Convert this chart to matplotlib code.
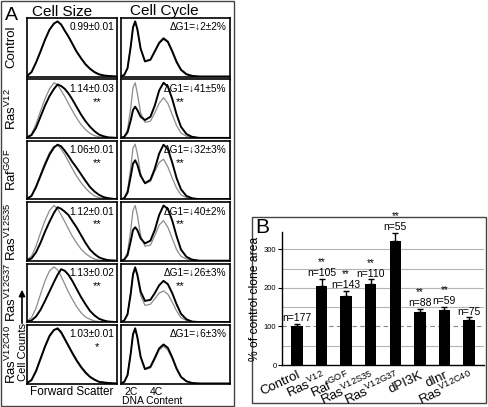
import matplotlib
matplotlib.use('Agg')
import matplotlib.pyplot as plt
from matplotlib.patches import Rectangle
import numpy as np

plt.rcParams['font.family'] = ['Liberation Sans', 'DejaVu Sans']
plt.rcParams['mathtext.fontset'] = 'custom'
plt.rcParams['mathtext.rm'] = 'Liberation Sans'
plt.rcParams['mathtext.it'] = 'Liberation Sans:italic'
plt.rcParams['mathtext.bf'] = 'Liberation Sans:bold'

# ---- panel A data (histogram traces, normalised 0..1) ----
row_labels = ['Control', r'Ras$^{\mathrm{V12}}$', r'Raf$^{\mathrm{GOF}}$',
              r'Ras$^{\mathrm{V12S35}}$', r'Ras$^{\mathrm{V12G37}}$', r'Ras$^{\mathrm{V12C40}}$']
size_ratio = ['0.99\u00b10.01', '1.14\u00b10.03', '1.06\u00b10.01',
              '1.12\u00b10.01', '1.13\u00b10.02', '1.03\u00b10.01']
size_sig = ['', '**', '**', '**', '**', '*']
cycle_text = ['\u0394G1=\u21932\u00b12%', '\u0394G1=\u219341\u00b15%', '\u0394G1=\u219332\u00b13%',
              '\u0394G1=\u219340\u00b12%', '\u0394G1=\u219326\u00b13%', '\u0394G1=\u21936\u00b13%']
cycle_sig = ['', '**', '**', '**', '**', '']

size_x = [0.00, 0.05, 0.10, 0.15, 0.20, 0.25, 0.30, 0.34, 0.38, 0.42, 0.46,
          0.50, 0.55, 0.60, 0.65, 0.70, 0.75, 0.80, 0.85, 0.90, 1.00]
size_black = [
    [0.01, 0.08, 0.25, 0.45, 0.66, 0.84, 0.95, 0.99, 0.93, 0.82, 0.72, 0.60, 0.45, 0.33, 0.22, 0.14, 0.08, 0.04, 0.02, 0.01, 0.0],
    [0.01, 0.05, 0.18, 0.38, 0.58, 0.75, 0.88, 0.96, 0.93, 0.88, 0.80, 0.70, 0.56, 0.42, 0.30, 0.20, 0.12, 0.06, 0.03, 0.01, 0.0],
    [0.01, 0.06, 0.22, 0.42, 0.62, 0.80, 0.93, 0.98, 0.95, 0.87, 0.78, 0.68, 0.57, 0.45, 0.33, 0.22, 0.14, 0.08, 0.04, 0.02, 0.0],
    [0.01, 0.04, 0.15, 0.32, 0.52, 0.70, 0.86, 0.96, 0.93, 0.88, 0.82, 0.72, 0.60, 0.46, 0.32, 0.20, 0.12, 0.06, 0.03, 0.01, 0.0],
    [0.01, 0.03, 0.10, 0.22, 0.38, 0.55, 0.72, 0.85, 0.95, 0.92, 0.85, 0.75, 0.60, 0.45, 0.32, 0.20, 0.12, 0.06, 0.03, 0.01, 0.0],
    [0.01, 0.06, 0.22, 0.44, 0.66, 0.85, 0.96, 0.99, 0.92, 0.80, 0.68, 0.56, 0.42, 0.30, 0.20, 0.12, 0.07, 0.03, 0.02, 0.01, 0.0],
]
size_gray = [
    [0.01, 0.07, 0.24, 0.44, 0.65, 0.84, 0.96, 0.98, 0.94, 0.83, 0.71, 0.59, 0.44, 0.32, 0.21, 0.13, 0.07, 0.03, 0.02, 0.01, 0.0],
    [0.01, 0.07, 0.25, 0.48, 0.70, 0.88, 0.99, 0.95, 0.85, 0.74, 0.62, 0.50, 0.36, 0.24, 0.15, 0.08, 0.04, 0.02, 0.01, 0.0, 0.0],
    [0.01, 0.07, 0.24, 0.45, 0.66, 0.84, 0.95, 0.97, 0.90, 0.80, 0.68, 0.56, 0.42, 0.30, 0.20, 0.12, 0.06, 0.03, 0.01, 0.0, 0.0],
    [0.02, 0.08, 0.26, 0.50, 0.72, 0.90, 0.99, 0.93, 0.82, 0.70, 0.57, 0.45, 0.32, 0.21, 0.13, 0.07, 0.03, 0.01, 0.0, 0.0, 0.0],
    [0.02, 0.08, 0.25, 0.50, 0.74, 0.92, 0.99, 0.94, 0.82, 0.68, 0.54, 0.42, 0.28, 0.17, 0.09, 0.05, 0.02, 0.01, 0.0, 0.0, 0.0],
    [0.01, 0.07, 0.24, 0.46, 0.68, 0.87, 0.97, 0.97, 0.90, 0.78, 0.66, 0.54, 0.40, 0.28, 0.18, 0.11, 0.06, 0.03, 0.01, 0.0, 0.0],
]

cycle_x = [0.00, 0.03, 0.06, 0.09, 0.11, 0.13, 0.15, 0.18, 0.22, 0.27, 0.31,
           0.35, 0.39, 0.43, 0.47, 0.51, 0.55, 0.60, 0.65, 0.72, 1.00]
cycle_black = [
    [0.0, 0.03, 0.15, 0.55, 0.88, 0.99, 0.85, 0.50, 0.27, 0.30, 0.45, 0.60, 0.68, 0.62, 0.45, 0.26, 0.12, 0.04, 0.01, 0.0, 0.0],
    [0.0, 0.02, 0.10, 0.32, 0.50, 0.56, 0.50, 0.38, 0.32, 0.38, 0.58, 0.85, 0.99, 0.92, 0.70, 0.42, 0.20, 0.07, 0.02, 0.0, 0.0],
    [0.0, 0.02, 0.12, 0.42, 0.64, 0.70, 0.62, 0.42, 0.29, 0.35, 0.55, 0.82, 0.98, 0.90, 0.66, 0.38, 0.18, 0.06, 0.02, 0.0, 0.0],
    [0.0, 0.02, 0.10, 0.36, 0.55, 0.60, 0.55, 0.40, 0.31, 0.36, 0.55, 0.82, 0.99, 0.93, 0.72, 0.44, 0.20, 0.07, 0.02, 0.0, 0.0],
    [0.0, 0.03, 0.14, 0.52, 0.85, 0.98, 0.85, 0.55, 0.38, 0.40, 0.52, 0.66, 0.74, 0.68, 0.52, 0.32, 0.15, 0.05, 0.01, 0.0, 0.0],
    [0.0, 0.03, 0.15, 0.55, 0.88, 0.99, 0.83, 0.48, 0.26, 0.30, 0.46, 0.63, 0.70, 0.64, 0.47, 0.27, 0.12, 0.04, 0.01, 0.0, 0.0],
]
cycle_gray = [
    [0.0, 0.03, 0.15, 0.54, 0.87, 0.98, 0.85, 0.50, 0.28, 0.31, 0.46, 0.62, 0.70, 0.64, 0.47, 0.28, 0.13, 0.05, 0.02, 0.0, 0.0],
    [0.0, 0.03, 0.15, 0.55, 0.90, 0.99, 0.80, 0.45, 0.28, 0.30, 0.45, 0.62, 0.72, 0.62, 0.42, 0.22, 0.09, 0.03, 0.01, 0.0, 0.0],
    [0.0, 0.03, 0.16, 0.58, 0.92, 0.99, 0.82, 0.46, 0.28, 0.32, 0.50, 0.66, 0.72, 0.58, 0.38, 0.20, 0.08, 0.03, 0.01, 0.0, 0.0],
    [0.0, 0.03, 0.15, 0.56, 0.90, 0.99, 0.82, 0.45, 0.26, 0.28, 0.45, 0.64, 0.72, 0.60, 0.40, 0.20, 0.08, 0.03, 0.01, 0.0, 0.0],
    [0.0, 0.03, 0.15, 0.55, 0.88, 0.99, 0.82, 0.48, 0.30, 0.32, 0.42, 0.52, 0.56, 0.50, 0.36, 0.20, 0.08, 0.03, 0.01, 0.0, 0.0],
    [0.0, 0.03, 0.15, 0.56, 0.89, 0.99, 0.82, 0.47, 0.25, 0.28, 0.43, 0.60, 0.67, 0.60, 0.44, 0.25, 0.11, 0.04, 0.01, 0.0, 0.0],
]

# ---- panel B data ----
genotypes = ['Control', r'Ras$^{\mathrm{V12}}$', r'Raf$^{\mathrm{GOF}}$', r'Ras$^{\mathrm{V12S35}}$',
             r'Ras$^{\mathrm{V12G37}}$', 'dPI3K', 'dInr', r'Ras$^{\mathrm{V12C40}}$']
clone_area = [100, 205, 179, 209, 322, 138, 142, 118]
clone_err = [6, 19, 13, 13, 20, 8, 9, 6]
n_clones = [177, 105, 143, 110, 55, 88, 59, 75]
area_sig = ['', '**', '**', '**', '**', '**', '**', '']

W, H = 489, 407


def pixbox(x0, y0, x1, y1):
    # pixel box with top-left origin -> figure fraction rect
    return [x0 / W, 1 - y1 / H, (x1 - x0) / W, (y1 - y0) / H]


fig = plt.figure(figsize=(W / 100, H / 100), dpi=100)
fig.patch.set_facecolor('white')

# overlay for frames and free text, in pixel coordinates
ov = fig.add_axes([0, 0, 1, 1])
ov.set_xlim(0, W)
ov.set_ylim(H, 0)
ov.axis('off')

ov.add_patch(Rectangle((1, 1), 233, 405, fill=False, ec='#444444', lw=1))
ov.add_patch(Rectangle((252, 217), 234, 186, fill=False, ec='#444444', lw=1))

ov.text(5, 20, 'A', fontsize=14, va='baseline')
ov.text(62, 15.5, 'Cell Size', fontsize=11, ha='center', va='baseline')
ov.text(164, 15.5, 'Cell Cycle', fontsize=11, ha='center', va='baseline')

row_top0, row_pitch, row_h = 18, 61.4, 58.5
for i in range(6):
    top = row_top0 + i * row_pitch
    ov.text(11, top + row_h / 2, row_labels[i], rotation=90, fontsize=9.5,
            ha='center', va='center')

    a1 = fig.add_axes(pixbox(27, top, 117, top + row_h))
    a1.plot(size_x, size_gray[i], color='#8c8c8c', lw=0.9)
    a1.plot(size_x, size_black[i], color='black', lw=1.4)
    a1.text(0.97, 0.84, size_ratio[i], transform=a1.transAxes, ha='right', va='center', fontsize=7.3)
    a1.text(0.78, 0.62, size_sig[i], transform=a1.transAxes, ha='center', va='center', fontsize=8)

    a2 = fig.add_axes(pixbox(121, top, 230, top + row_h))
    a2.plot(cycle_x, cycle_gray[i], color='#8c8c8c', lw=0.9)
    a2.plot(cycle_x, cycle_black[i], color='black', lw=1.4)
    a2.text(0.97, 0.84, cycle_text[i], transform=a2.transAxes, ha='right', va='center', fontsize=7.3)
    a2.text(0.54, 0.62, cycle_sig[i], transform=a2.transAxes, ha='center', va='center', fontsize=8)

    for a in (a1, a2):
        a.set_xlim(0, 1)
        a.set_ylim(0, 1.05)
        a.set_xticks([])
        a.set_yticks([])
        for s in a.spines.values():
            s.set_linewidth(1.2)

ov.annotate('', xy=(22, 287), xytext=(22, 326),
            arrowprops=dict(arrowstyle='-|>', color='black', lw=1.2, mutation_scale=9))
ov.text(23, 352, 'Cell Counts', rotation=90, fontsize=8, ha='center', va='center')
ov.text(72, 392, 'Forward Scatter', fontsize=8.5, ha='center', va='center')
ov.text(131, 392, '2C', fontsize=7.5, ha='center', va='center')
ov.text(156, 392, '4C', fontsize=7.5, ha='center', va='center')
ov.text(152, 400.5, 'DNA Content', fontsize=7.5, ha='center', va='center')

# ---- panel B ----
ov.text(255, 233, 'B', fontsize=15, va='baseline')
axb = fig.add_axes(pixbox(282, 232, 484, 365))
x = np.arange(len(genotypes))
for yv in [50, 150, 200, 250, 300]:
    axb.axhline(yv, color='#b4b4b4', lw=0.8, zorder=0)
axb.axhline(100, color='#888888', lw=0.8, ls=(0, (4, 3)), zorder=0)
axb.bar(x, clone_area, width=0.47, color='black', zorder=2,
        yerr=[np.zeros(len(x)), clone_err], capsize=2.5,
        error_kw=dict(elinewidth=1, capthick=1, ecolor='black', zorder=3))
for i in range(len(x)):
    tip = clone_area[i] + clone_err[i]
    axb.annotate('n=%d' % n_clones[i], (x[i], tip), xytext=(0, 0.5), textcoords='offset points',
                 ha='center', va='bottom', fontsize=7.5)
    if area_sig[i]:
        axb.annotate(area_sig[i], (x[i], tip), xytext=(0, 8.5), textcoords='offset points',
                     ha='center', va='bottom', fontsize=7)
axb.set_xlim(-0.61, 7.61)
axb.set_ylim(0, 345)
axb.set_yticks([0, 100, 200, 300])
axb.tick_params(axis='y', labelsize=5.5, length=3, width=0.8, pad=1)
axb.set_xticks(x)
axb.set_xticklabels(genotypes, rotation=25, ha='right', rotation_mode='anchor', fontsize=9.5)
axb.tick_params(axis='x', length=0, pad=3)
axb.set_ylabel('% of control clone area', fontsize=8.7, labelpad=2)
for s in ['top', 'right']:
    axb.spines[s].set_visible(False)
for s in ['left', 'bottom']:
    axb.spines[s].set_linewidth(1)

fig.savefig('out.png', dpi=100)
